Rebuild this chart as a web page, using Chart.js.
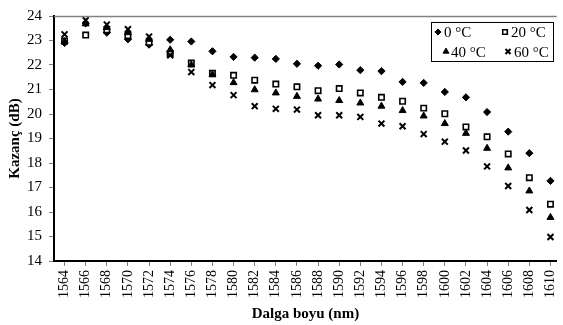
<!DOCTYPE html>
<html>
<head>
<meta charset="utf-8">
<script src="https://cdn.jsdelivr.net/npm/chart.js@4.4.1/dist/chart.umd.min.js"></script>
<style>
  html, body { margin: 0; padding: 0; background: #fff; }
  #wrap { width: 563px; height: 325px; }
</style>
</head>
<body>
<div id="wrap"><canvas id="myChart"></canvas></div>
<script>
// Wavelengths (nm) on the x axis
const wavelengths = [1564, 1566, 1568, 1570, 1572, 1574, 1576, 1578, 1580, 1582, 1584, 1586,
  1588, 1590, 1592, 1594, 1596, 1598, 1600, 1602, 1604, 1606, 1608, 1610];

// Gain (dB) per temperature
const gain0 = [22.90, 23.70, 23.32, 23.05, 22.83, 23.03, 22.96, 22.56, 22.33, 22.30, 22.25, 22.05,
  21.97, 22.02, 21.79, 21.75, 21.31, 21.27, 20.90, 20.68, 20.08, 19.28, 18.40, 17.27];
const gain20 = [22.98, 23.22, 23.43, 23.20, 22.92, 22.47, 22.08, 21.66, 21.58, 21.38, 21.22, 21.11,
  20.95, 21.04, 20.86, 20.68, 20.52, 20.24, 20.01, 19.47, 19.07, 18.37, 17.40, 16.32];
const gain40 = [22.95, 23.68, 23.53, 23.32, 23.05, 22.62, 22.00, 21.60, 21.28, 20.99, 20.86, 20.72,
  20.61, 20.55, 20.45, 20.32, 20.14, 19.92, 19.61, 19.21, 18.60, 17.80, 16.86, 15.78];
const gain60 = [23.25, 23.83, 23.65, 23.46, 23.16, 22.40, 21.71, 21.18, 20.77, 20.32, 20.21, 20.18,
  19.95, 19.95, 19.88, 19.61, 19.50, 19.18, 18.87, 18.51, 17.86, 17.06, 16.08, 14.98];

const seriesLabels = ["0 °C", "20 °C", "40 °C", "60 °C"];

const serif = "'Liberation Serif', 'Times New Roman', serif";

function toPoints(values) {
  return values.map((v, i) => ({ x: wavelengths[i], y: v }));
}

// Grey frame line along the top of the plot area
const topLine = {
  id: "topLine",
  afterDraw(chart) {
    const { ctx, chartArea } = chart;
    ctx.save();
    ctx.strokeStyle = "#808080";
    ctx.lineWidth = 1.5;
    ctx.beginPath();
    ctx.moveTo(chartArea.left, chartArea.top + 0.5);
    ctx.lineTo(chartArea.right, chartArea.top + 0.5);
    ctx.stroke();
    ctx.restore();
  },
};

// Boxed 2x2 legend in the top right corner
const legendBox = {
  id: "legendBox",
  afterDraw(chart) {
    const ctx = chart.ctx;
    const items = [
      { ds: 0, mx: 438, tx: 444, y: 37 },
      { ds: 1, mx: 505, tx: 511, y: 37 },
      { ds: 2, mx: 446, tx: 451, y: 56.5 },
      { ds: 3, mx: 508, tx: 514, y: 56.5 },
    ];
    ctx.save();
    ctx.fillStyle = "#fff";
    ctx.fillRect(431.5, 22.5, 122, 39);
    ctx.strokeStyle = "#000";
    ctx.lineWidth = 1;
    ctx.strokeRect(431.5, 22.5, 122, 39);
    items.forEach((it) => {
      const ds = chart.data.datasets[it.ds];
      ctx.fillStyle = ds.pointBackgroundColor;
      ctx.strokeStyle = ds.pointBorderColor;
      ctx.lineWidth = ds.pointBorderWidth;
      Chart.helpers.drawPoint(ctx, {
        pointStyle: ds.pointStyle,
        radius: ds.pointRadius * 0.85,
        borderWidth: ds.pointBorderWidth,
        rotation: 0,
      }, it.mx, it.y - 5);
      ctx.fillStyle = "#000";
      ctx.font = "15px " + serif;
      ctx.textBaseline = "alphabetic";
      ctx.fillText(ds.label, it.tx, it.y);
    });
    ctx.restore();
  },
};

const ctx = document.getElementById("myChart").getContext("2d");

new Chart(ctx, {
  type: "scatter",
  data: {
    datasets: [
      {
        label: seriesLabels[0],
        data: toPoints(gain0),
        pointStyle: "rectRot",
        pointRadius: 3.6,
        pointBackgroundColor: "#000",
        pointBorderColor: "#000",
        pointBorderWidth: 1,
        order: 4,
      },
      {
        label: seriesLabels[1],
        data: toPoints(gain20),
        pointStyle: "rect",
        pointRadius: 3.8,
        pointBackgroundColor: "#fff",
        pointBorderColor: "#000",
        pointBorderWidth: 1.6,
        order: 3,
      },
      {
        label: seriesLabels[2],
        data: toPoints(gain40),
        pointStyle: "triangle",
        pointRadius: 4,
        pointBackgroundColor: "#000",
        pointBorderColor: "#000",
        pointBorderWidth: 1,
        order: 2,
      },
      {
        label: seriesLabels[3],
        data: toPoints(gain60),
        pointStyle: "crossRot",
        pointRadius: 4.2,
        pointBackgroundColor: "#000",
        pointBorderColor: "#000",
        pointBorderWidth: 2,
        order: 1,
      },
    ],
  },
  options: {
    responsive: true,
    maintainAspectRatio: false,
    animation: false,
    layout: { padding: { top: 12, left: 0, right: 0, bottom: 0 } },
    plugins: {
      legend: { display: false },
      tooltip: { enabled: false },
    },
    scales: {
      x: {
        type: "linear",
        min: 1563,
        max: 1610.6,
        afterBuildTicks: (scale) => {
          scale.ticks = wavelengths.map((v) => ({ value: v }));
        },
        afterFit: (scale) => {
          scale.height = 64;
          scale.paddingLeft = 0;
          scale.paddingRight = 0;
        },
        grid: { drawOnChartArea: false, tickLength: 5, color: "#808080" },
        border: { color: "#000", width: 2 },
        ticks: {
          autoSkip: false,
          minRotation: 90,
          maxRotation: 90,
          padding: 4,
          color: "#000",
          font: { family: serif, size: 14 },
          callback: (value) => String(value),
        },
        title: {
          display: true,
          text: "Dalga boyu (nm)",
          color: "#000",
          font: { family: serif, size: 15, weight: "bold" },
          padding: { top: 0, bottom: 2 },
        },
      },
      y: {
        min: 14,
        max: 24,
        afterFit: (scale) => {
          scale.width = 54;
        },
        grid: { drawOnChartArea: false, tickLength: 5, color: "#808080" },
        border: { color: "#000", width: 2 },
        ticks: {
          stepSize: 1,
          padding: 7,
          color: "#000",
          font: { family: serif, size: 15 },
        },
        title: {
          display: true,
          text: "Kazanç (dB)",
          color: "#000",
          font: { family: serif, size: 15, weight: "bold" },
          padding: { top: 6, bottom: 0 },
        },
      },
    },
  },
  plugins: [topLine, legendBox],
});
</script>
</body>
</html>
